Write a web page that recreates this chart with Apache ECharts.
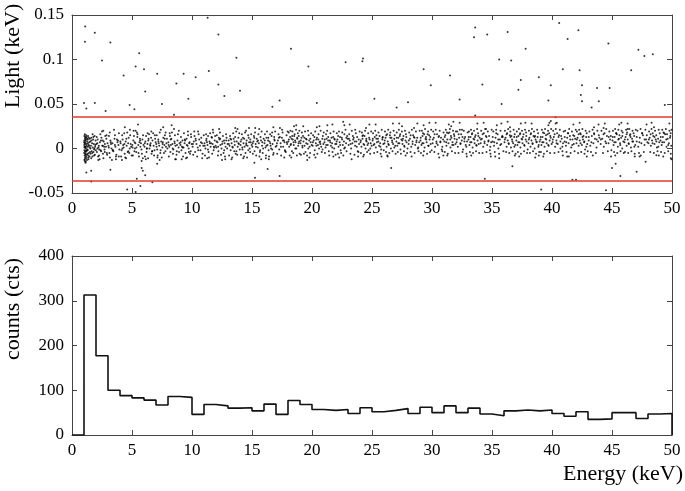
<!DOCTYPE html>
<html>
<head>
<meta charset="utf-8">
<script src="https://cdn.jsdelivr.net/npm/echarts@6/dist/echarts.min.js"></script>
<style>
  html, body { margin: 0; padding: 0; background: #fff; }
  #chart { width: 685px; height: 491px; }
</style>
</head>
<body>
<div id="chart"></div>
<script>
// light-yield cut (keV), drawn as the two red lines
const lightCut = 0.036;

// counts per 1 keV bin, bins 0-1 ... 49-50
const binCounts = [
  0, 313, 177, 100, 88, 83, 78, 67, 86, 84,
  46, 68, 65, 60, 61, 54, 69, 46, 77, 68,
  57, 55, 57, 48, 61, 52, 55, 59, 48, 62,
  50, 65, 50, 60, 47, 43, 54, 56, 54, 56,
  48, 42, 52, 35, 36, 50, 50, 37, 47, 48
];

// [energy keV, light keV] — events far from the band
const outlierPoints = [
  [1.1,0.137],[1.08,0.120],[1.9,0.130],[3.2,0.119],[2.5,0.099],[1.0,0.051],[1.2,0.045],
  [1.9,0.051],[2.8,0.042],[4.3,0.082],[5.3,0.092],[5.6,0.107],[6.0,0.089],[6.1,0.064],
  [4.8,0.049],[5.2,0.044],[7.1,0.084],[7.5,0.050],[8.5,0.038],[8.7,0.073],[9.3,0.084],
  [10.3,0.080],[9.7,0.056],[11.3,0.147],[11.4,0.087],[12.2,0.128],[12.2,0.072],[12.7,0.059],
  [13.7,0.102],[14.0,0.065],[16.7,0.047],[17.3,0.054],[18.25,0.112],[19.7,0.092],[20.4,0.051],
  [22.8,0.097],[24.2,0.098],[24.25,0.101],[25.2,0.056],
  [33.6,0.136],[33.5,0.125],[34.6,0.128],[36.3,0.131],[40.6,0.141],[41.3,0.123],[42.2,0.133],
  [37.8,0.112],[44.7,0.118],[47.2,0.111],[47.7,0.104],[48.4,0.106],[35.6,0.100],[36.6,0.099],
  [29.3,0.089],[31.5,0.082],[40.9,0.089],[42.3,0.088],[46.6,0.088],[29.9,0.071],[34.2,0.072],
  [37.4,0.077],[38.9,0.080],[39.9,0.071],[37.2,0.066],[42.5,0.071],[43.75,0.068],[44.8,0.068],
  [42.4,0.060],[42.5,0.053],[43.9,0.053],[43.3,0.046],[28.0,0.052],[27.05,0.046],[32.3,0.055],
  [35.8,0.050],[39.7,0.054],[49.4,0.049],[33.6,0.037],[40.3,0.035],
  [1.2,-0.027],[1.6,-0.037],[1.6,-0.025],[3.2,-0.024],[4.6,-0.046],[5.4,-0.034],[5.3,-0.049],
  [5.7,-0.042],[5.8,-0.022],[6.1,-0.030],[6.7,-0.038],[5.9,-0.025],[7.1,-0.017],[15.25,-0.033],
  [17.3,-0.031],[16.3,-0.023],[15.2,-0.016],[26.6,-0.022],[36.7,-0.020],[34.4,-0.034],
  [39.1,-0.046],[41.7,-0.035],[42.0,-0.035],[44.5,-0.047],[45.0,-0.022],[45.3,-0.017],
  [45.7,-0.031],[47.05,-0.026],[47.8,-0.015],[48.7,-0.0075],[49.9,-0.011]
];

// [energy keV, light keV] — main band, core
const bandPoints = [
  [1.02,0.004],[1.05,-0.008],[1.08,0.011],[1.03,-0.002],[1.11,0.007],[1.06,-0.012],[1.14,0.002],[1.09,0.013],
  [1.01,-0.005],[1.17,-0.009],[1.12,0.009],[1.04,0.001],[1.2,-0.003],[1.15,0.012],[1.07,-0.014],[1.23,0.005],
  [1.1,-0.006],[1.26,0.008],[1.18,-0.011],[1.03,0.014],[1.29,-0.001],[1.21,0.003],[1.13,-0.004],[1.32,0.01],
  [1.24,-0.007],[1.06,0.006],[1.35,-0.01],[1.16,0.0],[1.38,0.004],[1.27,0.011],[1.41,-0.005],[1.09,-0.01],
  [1.44,0.007],[1.3,-0.002],[1.19,0.015],[1.47,0.001],[1.36,-0.008],[1.02,0.009],[1.5,-0.004],[1.33,0.006],
  [1.12,-0.016],[1.25,-0.013],[1.4,0.012],[1.05,0.002],
  [1.52,0.008],[1.55,-0.006],[1.58,0.003],[1.61,0.012],[1.64,-0.003],[1.67,0.006],[1.7,-0.009],[1.73,0.001],
  [1.76,0.01],[1.79,-0.004],[1.82,0.005],[1.85,-0.001],[1.88,0.014],[1.91,-0.007],[1.94,0.004],[1.97,0.009],
  [1.6,-0.011],[1.72,0.016],[1.86,0.0],[1.99,-0.002],
  [2.03,0.005],[2.08,-0.004],[2.14,0.01],[2.2,0.001],[2.26,-0.008],[2.33,0.007],[2.39,-0.002],[2.45,0.012],
  [2.52,0.003],[2.58,-0.006],[2.64,0.008],[2.71,-0.001],[2.77,0.014],[2.83,0.002],[2.9,-0.005],[2.96,0.006],
  [2.5,0.019],[2.3,-0.012],
  [3.04,0.003],[3.12,-0.005],[3.2,0.009],[3.29,0.0],[3.37,0.006],[3.45,-0.003],[3.54,0.011],[3.62,0.002],
  [3.7,-0.007],[3.79,0.007],[3.87,0.004],[3.95,-0.001],[3.5,0.021],
  [4.05,0.006],[4.13,-0.002],[4.22,0.01],[4.3,0.001],[4.39,-0.006],[4.47,0.008],[4.55,0.003],[4.64,-0.004],
  [4.72,0.012],[4.81,0.0],[4.89,0.005],[4.97,-0.008],[4.4,0.024],[4.6,0.018],
  [5.03,0.004],[5.11,0.009],[5.2,-0.003],[5.28,0.006],[5.37,0.001],[5.45,0.013],[5.54,-0.005],[5.62,0.007],
  [5.7,0.002],[5.79,-0.001],[5.87,0.01],[5.96,0.004],[5.5,0.027],[5.8,-0.014],[5.3,0.02],
  [6.04,0.002],[6.12,0.008],[6.21,-0.004],[6.29,0.005],[6.38,0.011],[6.46,0.0],[6.55,0.006],[6.63,-0.006],
  [6.71,0.009],[6.8,0.003],[6.88,-0.002],[6.97,0.007],[6.3,0.017],
  [7.02,0.005],[7.1,-0.001],[7.19,0.01],[7.27,0.003],[7.36,-0.005],[7.44,0.008],[7.53,0.001],[7.61,0.012],
  [7.7,0.004],[7.78,-0.003],[7.87,0.006],[7.95,0.0],[7.6,0.024],[7.4,0.021],
  [8.03,0.007],[8.11,0.002],[8.2,-0.004],[8.28,0.011],[8.37,0.005],[8.45,-0.001],[8.54,0.008],[8.62,0.003],
  [8.71,-0.007],[8.79,0.009],[8.88,0.001],[8.96,0.006],[8.5,0.022],[8.3,0.026],
  [9.04,0.004],[9.12,-0.002],[9.21,0.009],[9.29,0.001],[9.38,0.006],[9.46,-0.005],[9.55,0.011],[9.63,0.003],
  [9.72,0.0],[9.8,0.007],[9.89,-0.003],[9.97,0.005],[9.5,-0.011],
  [10.05,0.002],[10.15,0.008],[10.26,-0.004],[10.37,0.005],[10.48,0.001],[10.6,0.01],[10.71,-0.002],[10.83,0.006],
  [10.94,0.003],[10.5,0.019],
  [11.04,0.006],[11.12,0.0],[11.21,0.011],[11.29,0.004],[11.38,-0.004],[11.46,0.008],[11.55,0.002],[11.63,0.013],
  [11.72,0.005],[11.8,-0.002],[11.89,0.009],[11.97,0.003],
  [12.03,0.001],[12.12,0.007],[12.2,-0.003],[12.29,0.01],[12.37,0.004],[12.46,0.0],[12.54,0.008],[12.63,-0.005],
  [12.71,0.006],[12.8,0.002],[12.88,0.012],[12.97,0.005],[12.5,-0.013],
  [13.05,0.009],[13.13,0.003],[13.22,-0.002],[13.3,0.006],[13.39,0.001],[13.47,0.011],[13.56,0.004],[13.64,-0.006],
  [13.73,0.008],[13.81,0.002],[13.9,0.005],[13.98,-0.001],[13.6,0.023],
  [14.04,0.004],[14.12,0.01],[14.21,-0.001],[14.29,0.006],[14.38,0.002],[14.46,-0.005],[14.55,0.009],[14.63,0.003],
  [14.72,0.012],[14.8,0.0],[14.89,0.007],[14.97,0.004],[14.5,0.02],
  [15.03,0.002],[15.12,0.008],[15.21,-0.003],[15.3,0.005],[15.39,0.011],[15.48,0.001],[15.57,0.006],[15.66,-0.004],
  [15.75,0.009],[15.84,0.003],[15.93,0.0],[15.6,0.022],
  [16.04,0.006],[16.12,0.001],[16.21,0.012],[16.29,0.004],[16.38,-0.002],[16.46,0.008],[16.55,0.003],[16.63,0.014],
  [16.72,0.005],[16.8,-0.005],[16.89,0.009],[16.97,0.002],[16.4,-0.012],
  [17.05,0.003],[17.16,0.009],[17.27,-0.001],[17.38,0.006],[17.49,0.012],[17.6,0.002],[17.71,0.007],[17.82,-0.004],
  [17.93,0.005],[17.5,0.021],
  [18.03,0.008],[18.1,0.002],[18.18,0.013],[18.25,0.005],[18.33,-0.003],[18.4,0.01],[18.48,0.004],[18.55,0.016],
  [18.63,0.007],[18.7,0.0],[18.78,0.011],[18.85,0.003],[18.93,0.008],[18.97,-0.006],[18.5,0.025],
  [19.04,0.006],[19.12,0.012],[19.21,0.001],[19.29,0.008],[19.38,0.003],[19.46,-0.004],[19.55,0.01],[19.63,0.005],
  [19.72,0.015],[19.8,0.002],[19.89,0.007],[19.97,0.004],[19.6,-0.013],
  [20.05,0.003],[20.14,0.009],[20.23,-0.002],[20.32,0.006],[20.41,0.012],[20.5,0.004],[20.59,0.0],[20.68,0.008],
  [20.77,0.002],[20.86,0.011],[20.95,0.005],[20.4,0.024],
  [21.04,0.007],[21.13,0.001],[21.22,0.011],[21.31,0.004],[21.4,-0.003],[21.49,0.009],[21.58,0.003],[21.67,0.006],
  [21.76,0.013],[21.85,0.0],[21.94,0.005],[21.7,0.027],
  [22.03,0.005],[22.12,0.01],[22.21,0.002],[22.3,0.007],[22.39,-0.002],[22.48,0.012],[22.57,0.004],[22.66,0.008],
  [22.75,0.001],[22.84,0.006],[22.93,0.014],[22.6,0.03],
  [23.05,0.004],[23.15,0.009],[23.26,0.0],[23.37,0.006],[23.48,0.012],[23.59,0.003],[23.7,0.008],[23.81,-0.003],
  [23.92,0.005],[23.6,0.021],[23.3,-0.012],
  [24.04,0.007],[24.12,0.002],[24.21,0.011],[24.29,0.005],[24.38,0.014],[24.46,0.0],[24.55,0.008],[24.63,0.004],
  [24.72,-0.002],[24.8,0.01],[24.89,0.006],[24.97,0.003],[24.5,0.023],
  [25.05,0.009],[25.14,0.004],[25.23,0.013],[25.32,0.001],[25.41,0.007],[25.5,0.011],[25.59,0.003],[25.68,0.006],
  [25.77,-0.001],[25.86,0.01],[25.95,0.005],
  [26.04,0.006],[26.13,0.012],[26.22,0.002],[26.31,0.008],[26.4,0.004],[26.49,0.015],[26.58,0.0],[26.67,0.009],
  [26.76,0.005],[26.85,0.011],[26.94,0.003],[26.3,-0.009],
  [27.03,0.008],[27.11,0.003],[27.2,0.012],[27.28,0.006],[27.37,-0.001],[27.45,0.01],[27.54,0.005],[27.62,0.014],
  [27.71,0.002],[27.79,0.009],[27.88,0.007],[27.96,0.0],[27.5,0.025],
  [28.05,0.005],[28.16,0.011],[28.27,0.002],[28.38,0.008],[28.49,0.013],[28.6,0.004],[28.71,0.009],[28.82,0.0],
  [28.93,0.007],[28.5,0.023],
  [29.04,0.009],[29.12,0.004],[29.21,0.014],[29.29,0.006],[29.38,0.001],[29.46,0.011],[29.55,0.007],[29.63,0.016],
  [29.72,0.003],[29.8,0.01],[29.89,0.005],[29.97,-0.002],[29.3,0.026],
  [30.05,0.006],[30.15,0.012],[30.26,0.002],[30.37,0.008],[30.48,0.004],[30.59,0.014],[30.7,0.007],[30.81,-0.001],
  [30.92,0.01],[30.6,-0.01],
  [31.03,0.008],[31.11,0.015],[31.2,0.003],[31.28,0.01],[31.37,0.006],[31.45,0.018],[31.54,0.001],[31.62,0.012],
  [31.71,0.007],[31.79,0.004],[31.88,0.011],[31.96,0.005],[31.4,0.027],[31.6,0.025],
  [32.05,0.007],[32.15,0.002],[32.26,0.012],[32.37,0.005],[32.48,0.009],[32.59,-0.001],[32.7,0.011],[32.81,0.004],
  [32.92,0.008],[32.5,0.021],
  [33.04,0.01],[33.12,0.004],[33.21,0.013],[33.29,0.007],[33.38,0.001],[33.46,0.011],[33.55,0.006],[33.63,0.015],
  [33.72,0.003],[33.8,0.009],[33.89,0.005],[33.97,0.012],
  [34.05,0.006],[34.16,0.011],[34.27,0.002],[34.38,0.008],[34.49,0.014],[34.6,0.004],[34.71,0.009],[34.82,-0.002],
  [34.93,0.007],[34.5,0.022],
  [35.05,0.008],[35.17,0.003],[35.29,0.012],[35.41,0.006],[35.53,0.0],[35.65,0.01],[35.77,0.005],[35.89,0.013],
  [35.6,-0.011],[35.4,0.026],
  [36.04,0.007],[36.13,0.012],[36.22,0.002],[36.31,0.009],[36.4,0.005],[36.49,0.015],[36.58,0.001],[36.67,0.01],
  [36.76,0.006],[36.85,0.013],[36.94,0.004],[36.5,0.024],
  [37.03,0.009],[37.12,0.004],[37.2,0.014],[37.29,0.007],[37.37,0.001],[37.46,0.011],[37.54,0.006],[37.63,0.016],
  [37.71,0.003],[37.8,0.01],[37.88,0.008],[37.97,-0.001],[37.4,0.028],
  [38.04,0.006],[38.12,0.012],[38.21,0.002],[38.29,0.009],[38.38,0.005],[38.46,0.014],[38.55,0.0],[38.63,0.01],
  [38.72,0.007],[38.8,0.013],[38.89,0.004],[38.97,0.008],[38.6,-0.01],
  [39.04,0.01],[39.12,0.004],[39.21,0.013],[39.29,0.007],[39.38,0.002],[39.46,0.011],[39.55,0.006],[39.63,0.016],
  [39.72,0.003],[39.8,0.009],[39.89,0.012],[39.97,0.005],[39.7,0.026],[39.9,0.031],
  [40.05,0.007],[40.15,0.013],[40.26,0.002],[40.37,0.009],[40.48,0.005],[40.59,0.015],[40.7,0.0],[40.81,0.011],
  [40.92,0.006],[40.4,0.029],
  [41.05,0.008],[41.16,0.003],[41.27,0.012],[41.38,0.006],[41.49,0.014],[41.6,0.001],[41.71,0.01],[41.82,0.005],
  [41.93,0.011],[41.4,-0.009],
  [42.04,0.006],[42.13,0.012],[42.22,0.003],[42.31,0.009],[42.4,0.016],[42.49,0.004],[42.58,0.01],[42.67,0.007],
  [42.76,-0.001],[42.85,0.013],[42.94,0.005],
  [43.06,0.009],[43.19,0.003],[43.32,0.014],[43.45,0.006],[43.58,0.011],[43.71,0.001],[43.84,0.008],[43.95,0.012],
  [43.5,0.024],
  [44.06,0.005],[44.19,0.011],[44.32,0.002],[44.45,0.008],[44.58,0.014],[44.71,0.006],[44.84,0.01],[44.95,-0.002],
  [44.3,0.023],
  [45.04,0.009],[45.13,0.004],[45.22,0.013],[45.31,0.007],[45.4,0.016],[45.49,0.002],[45.58,0.011],[45.67,0.006],
  [45.76,0.012],[45.85,0.0],[45.94,0.008],[45.6,0.027],
  [46.04,0.007],[46.13,0.013],[46.22,0.003],[46.31,0.01],[46.4,0.005],[46.49,0.015],[46.58,0.001],[46.67,0.011],
  [46.76,0.008],[46.85,0.014],[46.94,0.004],[46.3,0.022],
  [47.06,0.008],[47.19,0.002],[47.32,0.012],[47.45,0.006],[47.58,0.015],[47.71,0.004],[47.84,0.01],[47.95,0.007],
  [47.4,-0.008],
  [48.04,0.006],[48.14,0.012],[48.24,0.003],[48.34,0.009],[48.44,0.014],[48.54,0.005],[48.64,0.01],[48.74,0.001],
  [48.84,0.011],[48.94,0.007],[48.5,0.024],
  [49.04,0.009],[49.14,0.004],[49.24,0.013],[49.34,0.007],[49.44,0.016],[49.54,0.002],[49.64,0.011],[49.74,0.006],
  [49.84,0.012],[49.94,0.003],[49.9,-0.006],[49.96,-0.012]
];

// [energy keV, light keV] — main band, outer part
const bandEdgePoints = [
  [1.04,-0.013],[1.07,0.016],[1.1,0.005],[1.13,-0.007],[1.16,0.01],[1.19,-0.002],[1.22,0.013],[1.28,-0.006],
  [1.31,0.002],[1.34,0.014],[1.37,-0.012],[1.42,0.003],[1.46,-0.009],[1.49,0.011],[1.54,0.0],[1.63,0.009],
  [1.69,-0.005],[1.78,0.013],[1.84,-0.008],[1.93,0.002],[1.11,0.001],[1.08,-0.003],[1.01,0.007],[1.15,-0.015],
  [2.06,0.013],[2.17,-0.009],[2.24,0.003],[2.36,0.016],[2.42,-0.003],[2.55,0.009],[2.62,-0.011],[2.74,0.005],
  [2.86,0.011],[2.93,-0.007],[2.12,0.0],[2.68,0.002],
  [3.08,0.014],[3.16,-0.01],[3.25,0.005],[3.41,-0.002],[3.58,0.015],[3.66,-0.009],[3.83,0.009],[3.91,0.017],[3.33,-0.013],
  [4.09,-0.009],[4.18,0.015],[4.26,0.004],[4.35,0.017],[4.51,-0.011],[4.68,0.006],[4.77,-0.005],[4.85,0.015],[4.93,0.002],
  [5.07,-0.008],[5.16,0.014],[5.24,0.0],[5.41,0.018],[5.58,-0.009],[5.66,0.011],[5.75,0.006],[5.83,-0.006],[5.92,0.015],
  [6.08,-0.009],[6.17,0.014],[6.25,0.0],[6.34,-0.011],[6.42,0.016],[6.51,0.004],[6.59,0.012],[6.67,-0.003],
  [6.76,0.017],[6.84,-0.008],[6.93,0.011],
  [7.06,0.015],[7.14,-0.008],[7.23,0.006],[7.31,0.018],[7.48,-0.01],[7.57,0.007],[7.66,-0.005],[7.74,0.015],
  [7.83,0.002],[7.91,0.011],
  [8.07,-0.009],[8.16,0.014],[8.24,0.004],[8.33,0.018],[8.41,-0.006],[8.58,0.015],[8.66,-0.012],[8.75,0.004],
  [8.83,0.016],[8.92,-0.004],
  [9.08,0.013],[9.16,0.002],[9.25,-0.009],[9.33,0.017],[9.42,0.009],[9.59,-0.01],[9.67,0.015],[9.76,0.006],
  [9.84,-0.006],[9.93,0.013],
  [10.1,-0.007],[10.21,0.014],[10.32,0.009],[10.43,-0.009],[10.55,0.016],[10.66,0.003],[10.77,0.012],[10.88,-0.006],[10.98,0.015],
  [11.08,-0.008],[11.17,0.016],[11.25,0.007],[11.34,0.014],[11.42,-0.01],[11.51,0.017],[11.59,0.006],[11.68,-0.006],
  [11.76,0.018],[11.85,0.001],[11.93,0.014],
  [12.07,0.015],[12.16,-0.008],[12.24,0.012],[12.33,0.018],[12.42,-0.007],[12.58,0.014],[12.67,0.009],[12.75,-0.009],
  [12.84,0.016],[12.93,0.0],
  [13.09,-0.008],[13.17,0.014],[13.26,0.01],[13.35,-0.01],[13.43,0.017],[13.52,-0.003],[13.6,0.013],[13.69,0.019],
  [13.77,-0.007],[13.86,0.012],[13.94,0.017],
  [14.08,-0.007],[14.16,0.016],[14.25,0.012],[14.34,-0.009],[14.42,0.018],[14.51,0.004],[14.59,-0.01],[14.68,0.015],
  [14.76,0.007],[14.85,-0.004],[14.93,0.016],
  [15.07,-0.006],[15.16,0.014],[15.25,0.018],[15.35,-0.008],[15.44,0.008],[15.53,0.016],[15.62,-0.009],[15.71,0.013],
  [15.8,0.019],[15.89,-0.005],[15.97,0.011],
  [16.08,0.016],[16.17,-0.008],[16.25,0.019],[16.34,0.009],[16.42,-0.009],[16.51,0.016],[16.59,0.0],[16.68,0.018],
  [16.76,-0.007],[16.85,0.013],[16.93,0.019],
  [17.1,-0.006],[17.21,0.016],[17.32,0.013],[17.43,-0.008],[17.55,0.018],[17.66,0.009],[17.77,-0.003],[17.88,0.015],[17.97,0.019],
  [18.06,0.018],[18.14,-0.008],[18.21,0.02],[18.29,0.011],[18.37,0.019],[18.44,-0.005],[18.52,0.014],[18.59,0.009],
  [18.67,0.021],[18.74,-0.008],[18.82,0.017],[18.89,0.014],[18.95,0.02],
  [19.08,-0.007],[19.16,0.018],[19.25,0.014],[19.33,-0.006],[19.42,0.019],[19.5,0.011],[19.59,-0.008],[19.67,0.02],
  [19.76,0.009],[19.84,-0.005],[19.93,0.017],
  [20.09,0.015],[20.18,-0.007],[20.27,0.019],[20.36,0.01],[20.45,-0.006],[20.54,0.016],[20.63,0.007],[20.72,0.02],
  [20.81,-0.004],[20.9,0.014],[20.98,0.018],
  [21.08,-0.005],[21.17,0.016],[21.26,0.02],[21.35,0.009],[21.44,-0.008],[21.53,0.017],[21.62,0.012],[21.71,-0.004],
  [21.8,0.019],[21.89,0.01],[21.97,-0.007],
  [22.07,0.017],[22.16,-0.006],[22.25,0.019],[22.34,0.013],[22.43,-0.005],[22.52,0.018],[22.61,-0.008],[22.7,0.016],
  [22.79,0.021],[22.88,-0.003],[22.97,0.011],
  [23.1,0.016],[23.2,-0.006],[23.32,0.02],[23.43,0.01],[23.54,-0.007],[23.65,0.017],[23.76,0.013],[23.87,-0.004],[23.97,0.019],
  [24.08,-0.005],[24.16,0.018],[24.25,0.015],[24.33,-0.007],[24.42,0.02],[24.51,0.009],[24.59,-0.004],[24.68,0.017],
  [24.76,0.012],[24.85,-0.006],[24.93,0.019],
  [25.09,0.017],[25.18,-0.005],[25.27,0.02],[25.36,0.011],[25.45,-0.004],[25.54,0.018],[25.63,0.014],[25.72,-0.006],
  [25.81,0.021],[25.9,0.013],[25.98,-0.002],
  [26.08,0.019],[26.17,-0.004],[26.26,0.016],[26.35,0.021],[26.44,-0.005],[26.53,0.018],[26.62,0.012],[26.71,-0.003],
  [26.8,0.02],[26.89,0.015],[26.97,-0.006],
  [27.07,0.018],[27.15,-0.004],[27.24,0.021],[27.32,0.014],[27.41,-0.006],[27.49,0.019],[27.58,0.011],[27.66,-0.003],
  [27.75,0.02],[27.83,0.016],[27.92,-0.005],
  [28.1,0.018],[28.21,-0.004],[28.32,0.021],[28.43,0.015],[28.55,-0.005],[28.66,0.019],[28.77,0.012],[28.88,-0.003],[28.97,0.02],
  [29.08,-0.005],[29.16,0.02],[29.25,0.017],[29.33,-0.003],[29.42,0.022],[29.5,0.013],[29.59,-0.006],[29.67,0.019],
  [29.76,0.015],[29.84,-0.004],[29.93,0.021],
  [30.1,0.019],[30.2,-0.004],[30.31,0.021],[30.42,0.016],[30.53,-0.006],[30.64,0.02],[30.75,0.012],[30.86,-0.003],[30.96,0.018],
  [31.07,-0.004],[31.15,0.021],[31.24,0.018],[31.32,-0.006],[31.49,0.022],[31.58,0.014],[31.66,-0.003],[31.75,0.02],
  [31.83,0.016],[31.92,-0.005],[31.99,0.019],
  [32.1,0.019],[32.21,-0.005],[32.32,0.021],[32.43,0.016],[32.54,-0.004],[32.65,0.02],[32.76,0.013],[32.87,-0.006],[32.97,0.018],
  [33.08,0.019],[33.16,-0.004],[33.25,0.021],[33.33,0.016],[33.42,-0.005],[33.5,0.02],[33.59,0.013],[33.67,-0.003],
  [33.76,0.022],[33.84,0.017],[33.93,-0.005],
  [34.1,0.02],[34.21,-0.005],[34.32,0.017],[34.43,0.022],[34.54,-0.004],[34.65,0.019],[34.76,0.014],[34.87,-0.006],[34.97,0.021],
  [35.11,0.019],[35.23,-0.004],[35.35,0.021],[35.47,0.016],[35.59,-0.006],[35.71,0.02],[35.83,0.013],[35.95,-0.003],
  [36.08,0.02],[36.17,-0.004],[36.26,0.017],[36.35,0.022],[36.44,-0.005],[36.53,0.019],[36.62,0.014],[36.71,-0.003],
  [36.8,0.021],[36.89,0.016],[36.97,-0.006],
  [37.07,0.019],[37.16,-0.004],[37.24,0.022],[37.33,0.016],[37.41,-0.006],[37.5,0.02],[37.58,0.013],[37.67,-0.003],
  [37.75,0.021],[37.84,0.018],[37.92,-0.005],
  [38.08,0.02],[38.16,-0.005],[38.25,0.017],[38.33,0.022],[38.42,-0.003],[38.5,0.019],[38.59,0.014],[38.67,-0.006],
  [38.76,0.021],[38.84,0.017],[38.93,-0.004],
  [39.08,-0.004],[39.16,0.021],[39.25,0.018],[39.33,-0.006],[39.42,0.022],[39.5,0.015],[39.59,-0.003],[39.67,0.02],
  [39.76,0.017],[39.84,-0.005],[39.93,0.022],
  [40.1,0.02],[40.21,-0.005],[40.32,0.022],[40.43,0.017],[40.54,-0.004],[40.65,0.021],[40.76,0.014],[40.87,-0.003],[40.97,0.019],
  [41.1,0.02],[41.21,-0.004],[41.32,0.017],[41.43,0.022],[41.55,-0.005],[41.66,0.019],[41.77,0.015],[41.88,-0.003],[41.98,0.021],
  [42.08,0.019],[42.17,-0.005],[42.26,0.021],[42.35,0.017],[42.44,-0.004],[42.53,0.022],[42.62,0.014],[42.71,-0.006],
  [42.8,0.02],[42.89,0.017],[42.98,-0.003],
  [43.12,0.019],[43.25,-0.004],[43.38,0.021],[43.52,0.016],[43.65,-0.005],[43.78,0.02],[43.9,0.015],
  [44.12,0.02],[44.25,-0.005],[44.38,0.017],[44.52,0.022],[44.65,-0.003],[44.78,0.019],[44.9,0.014],
  [45.08,0.02],[45.17,-0.004],[45.26,0.022],[45.35,0.017],[45.44,-0.005],[45.53,0.021],[45.62,0.015],[45.71,-0.003],
  [45.8,0.02],[45.89,0.018],[45.98,-0.005],
  [46.08,-0.004],[46.17,0.021],[46.26,0.018],[46.35,-0.005],[46.44,0.022],[46.53,0.016],[46.62,-0.003],[46.71,0.02],
  [46.8,0.017],[46.89,-0.006],[46.98,0.021],
  [47.12,0.02],[47.25,-0.005],[47.38,0.022],[47.52,0.017],[47.65,-0.004],[47.78,0.021],[47.9,0.015],
  [48.09,0.019],[48.19,-0.004],[48.29,0.022],[48.39,0.017],[48.49,-0.005],[48.59,0.02],[48.69,0.015],[48.79,-0.003],
  [48.89,0.021],[48.98,0.017],
  [49.09,-0.004],[49.19,0.021],[49.29,0.018],[49.39,-0.005],[49.49,0.022],[49.59,0.016],[49.69,-0.003],[49.79,0.02],
  [49.89,0.017],[49.97,0.021]
];

// [energy keV, light keV] — main band, extra core fill and soft tails
const bandFillPoints = [
  [2.11,0.006],[2.27,-0.001],[2.41,0.009],[2.57,0.003],[2.73,-0.004],[2.19,-0.013],[2.61,0.02],[2.88,0.015],
  [3.07,0.001],[3.23,0.007],[3.39,-0.002],[3.58,0.004],[3.74,0.01],[3.15,0.018],[3.66,-0.012],[3.9,-0.009],
  [4.03,0.008],[4.2,0.0],[4.37,0.005],[4.53,0.011],[4.7,-0.003],[4.16,-0.013],[4.83,0.021],[4.44,-0.01],
  [5.05,0.001],[5.22,0.007],[5.35,-0.004],[5.52,0.004],[5.68,0.009],[5.13,0.02],[5.9,-0.011],[5.46,0.016],
  [6.06,0.006],[6.23,0.0],[6.36,0.009],[6.53,0.003],[6.69,-0.003],[6.15,-0.012],[6.61,0.019],[6.9,0.015],
  [7.04,0.002],[7.2,0.008],[7.38,-0.002],[7.55,0.005],[7.72,0.011],[7.12,-0.01],[7.8,0.018],[7.3,-0.013],
  [8.05,0.004],[8.22,0.01],[8.39,0.0],[8.56,0.006],[8.73,-0.003],[8.14,0.017],[8.6,-0.012],[8.9,0.02],
  [9.06,0.007],[9.23,0.001],[9.4,0.01],[9.57,0.004],[9.74,-0.004],[9.14,-0.012],[9.66,0.019],[9.91,0.016],
  [10.08,0.005],[10.3,0.011],[10.52,-0.002],[10.74,0.007],[10.19,0.019],[10.85,-0.011],
  [11.06,0.003],[11.19,0.009],[11.33,-0.001],[11.49,0.006],[11.66,0.012],[11.82,0.002],[11.27,-0.011],[11.74,0.021],
  [12.05,0.008],[12.18,0.002],[12.35,0.011],[12.51,0.005],[12.68,-0.002],[12.85,0.009],[12.26,0.022],[12.77,-0.012],
  [13.07,0.005],[13.2,0.011],[13.37,0.002],[13.54,0.008],[13.7,-0.003],[13.87,0.006],[13.29,-0.012],[13.79,0.022],
  [14.06,0.008],[14.19,0.001],[14.35,0.011],[14.52,0.006],[14.69,-0.002],[14.86,0.01],[14.27,-0.011],[14.75,0.023],
  [15.05,0.006],[15.19,0.012],[15.33,0.002],[15.5,0.009],[15.68,-0.002],[15.86,0.007],[15.27,0.023],[15.77,-0.012],
  [16.07,0.009],[16.2,0.003],[16.36,0.012],[16.52,0.006],[16.69,-0.001],[16.86,0.01],[16.15,-0.011],[16.78,0.024],
  [17.08,0.006],[17.24,0.012],[17.41,0.002],[17.58,0.009],[17.74,-0.002],[17.9,0.007],[17.33,0.023],[17.69,-0.01],
  [18.07,0.01],[18.22,0.004],[18.35,0.014],[18.46,0.007],[18.61,0.0],[18.76,0.012],[18.88,0.006],[18.27,-0.01],[18.69,0.026],
  [19.07,0.009],[19.2,0.003],[19.36,0.012],[19.52,0.006],[19.69,0.0],[19.86,0.011],[19.27,0.025],[19.78,-0.01],
  [20.07,0.007],[20.2,0.013],[20.37,0.003],[20.53,0.01],[20.7,0.005],[20.88,-0.001],[20.29,-0.01],[20.62,0.025],
  [21.06,0.01],[21.19,0.004],[21.35,0.013],[21.52,0.007],[21.69,0.001],[21.86,0.011],[21.28,0.026],[21.78,-0.009],
  [22.05,0.008],[22.18,0.014],[22.35,0.004],[22.51,0.01],[22.68,0.0],[22.86,0.012],[22.27,-0.01],[22.7,0.026],
  [23.08,0.011],[23.22,0.005],[23.4,0.014],[23.56,0.008],[23.73,0.002],[23.89,0.01],[23.14,0.027],[23.84,-0.009],
  [24.07,0.009],[24.2,0.014],[24.36,0.004],[24.53,0.011],[24.69,0.006],[24.86,0.0],[24.27,-0.009],[24.78,0.027],
  [25.07,0.011],[25.2,0.005],[25.37,0.015],[25.53,0.008],[25.7,0.002],[25.87,0.012],[25.3,0.027],[25.79,-0.009],
  [26.06,0.009],[26.19,0.015],[26.36,0.005],[26.52,0.012],[26.69,0.007],[26.86,0.001],[26.28,-0.008],[26.74,0.028],
  [27.06,0.012],[27.19,0.006],[27.35,0.016],[27.52,0.009],[27.69,0.003],[27.86,0.013],[27.27,0.028],[27.8,-0.008],
  [28.07,0.009],[28.22,0.015],[28.38,0.005],[28.54,0.012],[28.7,0.007],[28.86,0.001],[28.3,-0.009],[28.78,0.028],
  [29.06,0.012],[29.19,0.006],[29.35,0.016],[29.52,0.01],[29.69,0.003],[29.86,0.013],[29.27,-0.008],[29.78,0.029],
  [30.07,0.01],[30.22,0.016],[30.38,0.006],[30.54,0.013],[30.7,0.008],[30.86,0.002],[30.3,0.029],[30.95,-0.008],
  [31.06,0.013],[31.19,0.007],[31.35,0.017],[31.52,0.01],[31.69,0.004],[31.86,0.014],[31.27,-0.008],[31.78,0.03],
  [32.07,0.01],[32.22,0.016],[32.38,0.006],[32.54,0.013],[32.7,0.008],[32.86,0.002],[32.3,0.029],[32.9,-0.009],
  [33.06,0.013],[33.19,0.007],[33.35,0.017],[33.52,0.01],[33.69,0.004],[33.86,0.014],[33.27,-0.008],[33.78,0.028],
  [34.07,0.01],[34.22,0.016],[34.38,0.006],[34.54,0.013],[34.7,0.008],[34.86,0.002],[34.3,0.029],[34.9,-0.009],
  [35.06,0.013],[35.19,0.007],[35.35,0.017],[35.52,0.01],[35.69,0.004],[35.86,0.014],[35.27,-0.009],[35.78,0.028],
  [36.07,0.01],[36.22,0.016],[36.38,0.006],[36.54,0.013],[36.7,0.008],[36.86,0.002],[36.3,0.03],[36.9,-0.008],
  [37.06,0.013],[37.19,0.007],[37.35,0.017],[37.52,0.01],[37.69,0.004],[37.86,0.014],[37.27,-0.009],[37.78,0.029],
  [38.07,0.01],[38.22,0.016],[38.38,0.006],[38.54,0.013],[38.7,0.008],[38.86,0.002],[38.3,0.028],[38.9,-0.008],
  [39.06,0.013],[39.19,0.007],[39.35,0.017],[39.52,0.01],[39.69,0.004],[39.86,0.014],[39.27,-0.009],[39.78,0.029],
  [40.07,0.01],[40.22,0.016],[40.38,0.006],[40.54,0.013],[40.7,0.008],[40.86,0.002],[40.3,0.028],[40.9,-0.008],
  [41.06,0.013],[41.19,0.007],[41.35,0.017],[41.52,0.01],[41.69,0.004],[41.86,0.014],[41.27,-0.009],[41.78,0.027],
  [42.07,0.01],[42.22,0.016],[42.38,0.006],[42.54,0.013],[42.7,0.008],[42.86,0.002],[42.3,0.029],[42.9,-0.009],
  [43.06,0.013],[43.28,0.007],[43.5,0.017],[43.72,0.01],[43.4,-0.008],[43.88,0.027],
  [44.07,0.01],[44.29,0.016],[44.51,0.006],[44.73,0.013],[44.4,0.028],[44.92,-0.009],
  [45.06,0.013],[45.19,0.007],[45.35,0.017],[45.52,0.01],[45.69,0.004],[45.86,0.014],[45.27,-0.008],[45.78,0.029],
  [46.07,0.01],[46.22,0.016],[46.38,0.006],[46.54,0.013],[46.7,0.008],[46.86,0.002],[46.3,0.028],[46.9,-0.009],
  [47.06,0.013],[47.28,0.007],[47.5,0.017],[47.72,0.01],[47.3,-0.009],[47.88,0.027],
  [48.07,0.01],[48.22,0.016],[48.38,0.006],[48.54,0.013],[48.7,0.008],[48.86,0.002],[48.3,0.029],[48.9,-0.008],
  [49.06,0.013],[49.19,0.007],[49.35,0.017],[49.52,0.01],[49.69,0.004],[49.86,0.014],[49.27,-0.009],[49.78,0.028]
];

const FONT = '"Liberation Serif", "Times New Roman", serif';
const axisGray = "#444";

// histogram outline: left edge of each bin, then close at 50 keV
const histLine = binCounts.map((c, i) => [i, c]);
histLine.push([binCounts.length, binCounts[binCounts.length - 1]]);
histLine.push([binCounts.length, 0]);

function xAx(gridIndex, position, showLabels) {
  return {
    type: "value", gridIndex, position, min: 0, max: 50, interval: 5,
    axisLine: { show: true, onZero: false, lineStyle: { color: axisGray, width: 1 } },
    axisTick: { show: true, inside: true, length: 5, lineStyle: { color: axisGray } },
    axisLabel: { show: showLabels, color: "#000", fontFamily: FONT, fontSize: 17, margin: 7 },
    splitLine: { show: false },
  };
}

function yAx(gridIndex, position, min, max, interval, showLabels) {
  return {
    type: "value", gridIndex, position, min, max, interval,
    axisLine: { show: true, onZero: false, lineStyle: { color: axisGray, width: 1 } },
    axisTick: { show: true, inside: true, length: 5, lineStyle: { color: axisGray } },
    axisLabel: { show: showLabels, color: "#000", fontFamily: FONT, fontSize: 17, margin: 8 },
    splitLine: { show: false },
  };
}

const chart = echarts.init(document.getElementById("chart"));
chart.setOption({
  animation: false,
  backgroundColor: "#fff",
  textStyle: { fontFamily: FONT },
  grid: [
    { left: 72, right: 13, top: 15, height: 178 },
    { left: 72, right: 13, top: 256, height: 179 },
  ],
  xAxis: [
    xAx(0, "bottom", true),
    xAx(0, "top", false),
    xAx(1, "bottom", true),
    xAx(1, "top", false),
  ],
  yAxis: [
    yAx(0, "left", -0.05, 0.15, 0.05, true),
    yAx(0, "right", -0.05, 0.15, 0.05, false),
    yAx(1, "left", 0, 400, 100, true),
    yAx(1, "right", 0, 400, 100, false),
  ],
  graphic: [
    { type: "text", x: 13, y: 56, rotation: Math.PI / 2,
      style: { text: "Light (keV)", font: `22px ${FONT}`, fill: "#000", textAlign: "center", textVerticalAlign: "middle" } },
    { type: "text", x: 13, y: 309, rotation: Math.PI / 2,
      style: { text: "counts (cts)", font: `22px ${FONT}`, fill: "#000", textAlign: "center", textVerticalAlign: "middle" } },
    { type: "text", x: 683, y: 474,
      style: { text: "Energy (keV)", font: `22px ${FONT}`, fill: "#000", textAlign: "right", textVerticalAlign: "middle" } },
  ],
  series: [
    {
      type: "scatter", xAxisIndex: 0, yAxisIndex: 0,
      data: bandPoints.concat(bandEdgePoints, bandFillPoints, outlierPoints),
      symbolSize: 2, itemStyle: { color: "#000" },
      markLine: {
        silent: true, symbol: ["none", "none"], label: { show: false }, precision: 4,
        lineStyle: { color: "#e4372b", width: 1.5, type: "solid" },
        data: [{ yAxis: lightCut }, { yAxis: -lightCut }],
      },
    },
    {
      type: "line", xAxisIndex: 2, yAxisIndex: 2,
      data: histLine, step: "end", showSymbol: false,
      lineStyle: { color: "#111", width: 1.6 },
    },
  ],
});
</script>
</body>
</html>
